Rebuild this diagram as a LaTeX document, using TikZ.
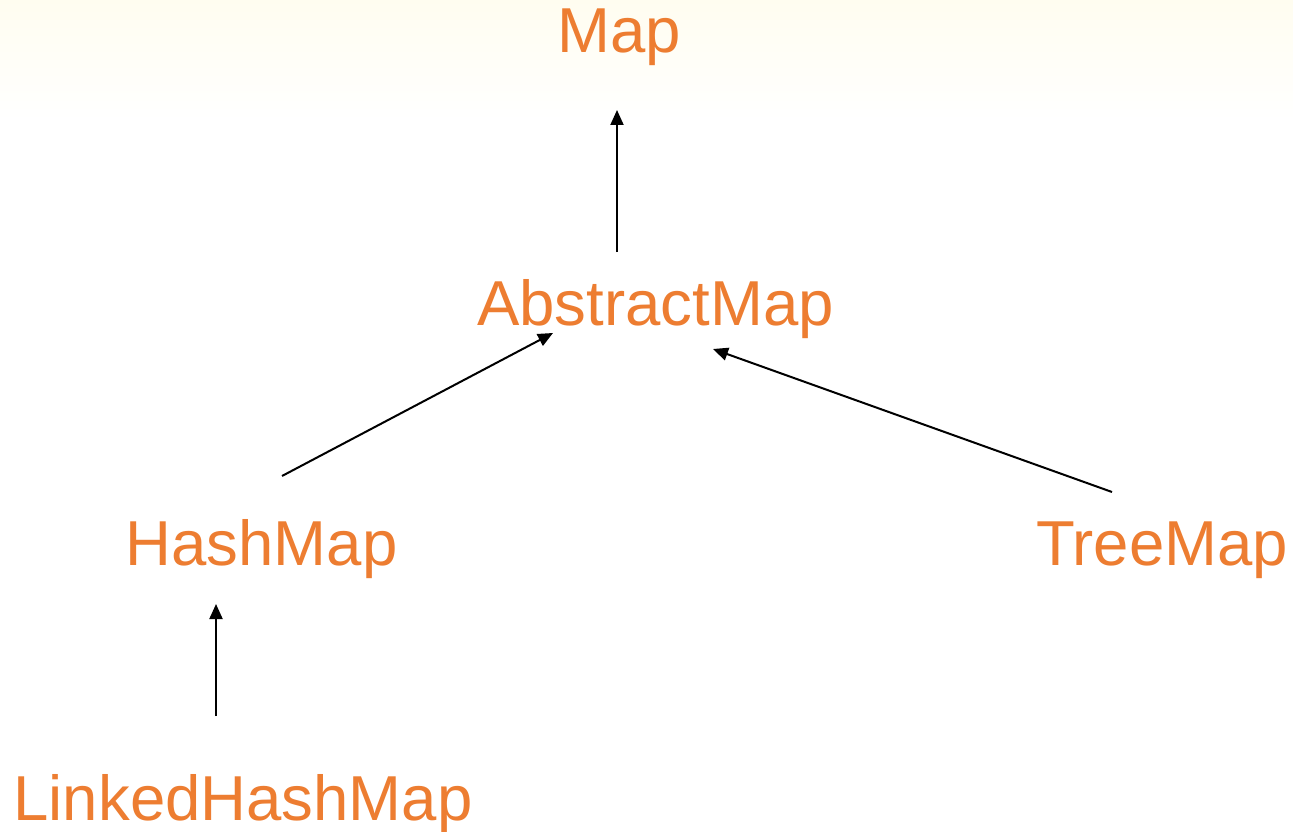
\documentclass[tikz,border=0pt]{standalone}
\usepackage{fontspec}
\setmainfont{Liberation Sans}
\usetikzlibrary{arrows.meta,calc}
\definecolor{classorange}{HTML}{ED7D31}
\definecolor{cream}{HTML}{FFFDF0}
\tikzset{
  cls/.style={anchor=base, inner sep=0pt, text=classorange, font=\fontsize{63.5}{76}\selectfont},
  inherit/.style={-{Triangle[length=15pt,width=13pt]}, line width=2pt, black}
}
\begin{document}
\begin{tikzpicture}[x=1pt,y=-1pt]
  % page and soft cream band at the top
  \useasboundingbox (0,0) rectangle (1293,832);
  \fill[white] (0,0) rectangle (1293,832);
  \shade[top color=cream, bottom color=white] (0,0) rectangle (1293,120);

  % classes
  \node[cls] (map)    at (619,53)    {Map};
  \node[cls] (abs)    at (655.5,325) {AbstractMap};
  \node[cls] (hash)   at (261.5,565) {HashMap};
  \node[cls] (tree)   at (1162,565)  {TreeMap};
  \node[cls] (linked) at (243,820)   {LinkedHashMap};

  % inheritance arrows, child to parent
  \draw[inherit] ($(abs.base)+(-38.5,-73)$) -- ($(map.base)+(-2,57)$);
  \draw[inherit] ($(hash.base)+(20.5,-89)$) -- ($(abs.base)+(-102.5,8)$);
  \draw[inherit] ($(tree.base)+(-50,-73)$) -- ($(abs.base)+(57.5,24)$);
  \draw[inherit] ($(linked.base)+(-27,-104)$) -- ($(hash.base)+(-45.5,39)$);
\end{tikzpicture}
\end{document}
